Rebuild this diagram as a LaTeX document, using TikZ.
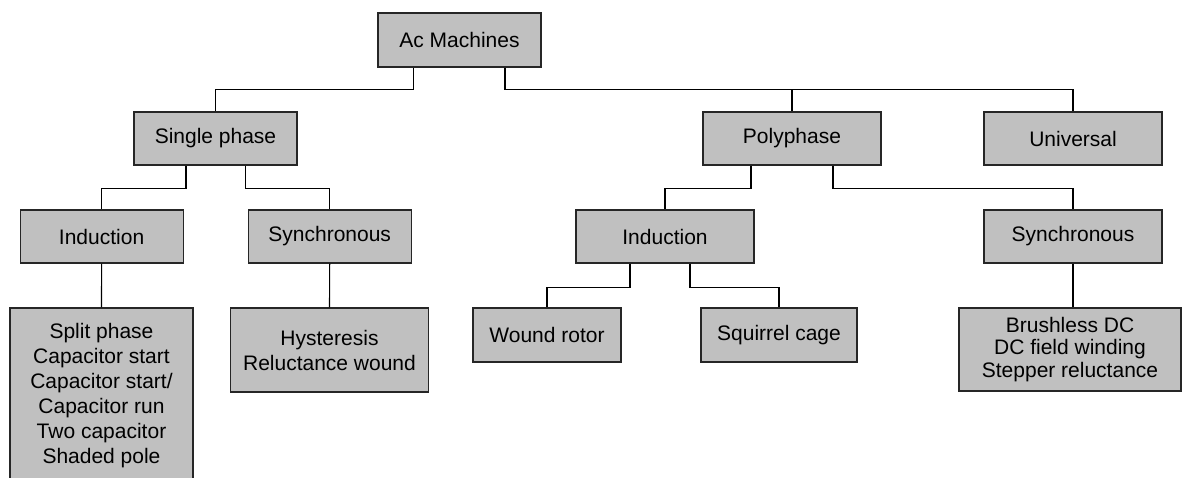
\documentclass[tikz,border=0pt]{standalone}
\usepackage{fontspec}
\setmainfont{Liberation Sans}
\definecolor{boxgray}{RGB}{192,192,192}

\begin{document}
\begin{tikzpicture}[x=1pt, y=-1pt,
    box/.style={draw=black!85, line width=1.2pt, fill=boxgray, inner sep=0pt,
        align=center, minimum height=53pt, font=\fontsize{21}{25}\selectfont},
    link/.style={draw=black, line width=1.1pt}]

\useasboundingbox (0,0) rectangle (1182,477);
\clip (0,0) rectangle (1182,477);

% Top level
\node[box, minimum width=163pt, minimum height=54pt] (ac) at (459.5,40) {Ac Machines};

% Second row
\node[box, minimum width=163pt] (single) at (215.5,138.5) {Single phase};
\node[box, minimum width=178pt] (poly) at (792,138.5) {Polyphase};
\node[box, minimum width=178pt] (univ) at (1073,138.5) {Universal};

% Third row
\node[box, minimum width=163pt] (spind) at (101.6,236.5) {Induction};
\node[box, minimum width=163pt] (spsyn) at (329.7,236.5) {Synchronous};
\node[box, minimum width=178pt] (ppind) at (665,236.5) {Induction};
\node[box, minimum width=178pt] (ppsyn) at (1073,236.5) {Synchronous};

% Bottom row
\node[box, minimum width=183pt, minimum height=175.6pt] (split) at (101.5,395.8)
    {Split phase\\Capacitor start\\Capacitor start/\\Capacitor run\\Two capacitor\\Shaded pole};
\node[box, minimum width=198pt, minimum height=84pt] (hyst) at (329.5,350)
    {Hysteresis\\Reluctance wound};
\node[box, minimum width=148pt, minimum height=54pt] (wound) at (547,335) {Wound rotor};
\node[box, minimum width=156pt, minimum height=54pt] (squirrel) at (779,335) {Squirrel cage};
\node[box, minimum width=222pt, minimum height=83pt, font=\fontsize{21}{22.4}\selectfont]
    (brush) at (1070,349.5) {Brushless DC\\DC field winding\\Stepper reluctance};

% Connectors from Ac Machines
\draw[link] ([xshift=-46pt]ac.south) -- ++(0,22.3) -| (single.north);
\draw[link] ([xshift=45.5pt]ac.south) -- ++(0,22.3) -| (poly.north);
\draw[link] ([xshift=45.5pt]ac.south) ++(0,22.3) -| (univ.north);

% Single phase branches
\draw[link] ([xshift=-29.5pt]single.south) -- ++(0,23.3) -| (spind.north);
\draw[link] ([xshift=30pt]single.south) -- ++(0,23.3) -| (spsyn.north);
\draw[link] (spind.south) -- (split.north);
\draw[link] (spsyn.south) -- (hyst.north);

% Polyphase branches
\draw[link] ([xshift=-41pt]poly.south) -- ++(0,23.3) -| (ppind.north);
\draw[link] ([xshift=41pt]poly.south) -- ++(0,23.3) -| (ppsyn.north);
\draw[link] ([xshift=-35pt]ppind.south) -- ++(0,23.7) -| (wound.north);
\draw[link] ([xshift=25pt]ppind.south) -- ++(0,23.7) -| (squirrel.north);
\draw[link] (ppsyn.south) -- (ppsyn.south |- brush.north);

\end{tikzpicture}
\end{document}
